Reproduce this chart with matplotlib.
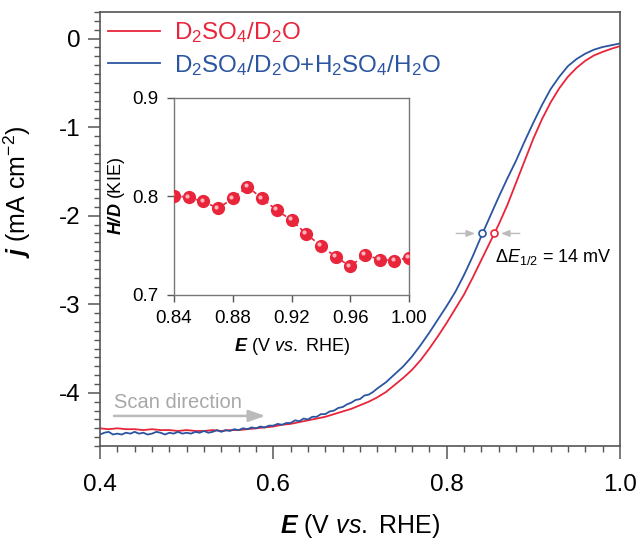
import numpy as np
import matplotlib
matplotlib.use('Agg')
import matplotlib.pyplot as plt
from matplotlib.ticker import MultipleLocator
from matplotlib.transforms import offset_copy

plt.rcParams['font.family'] = ['Liberation Sans', 'DejaVu Sans']
plt.rcParams['mathtext.fontset'] = 'custom'
plt.rcParams['mathtext.rm'] = 'Liberation Sans'
plt.rcParams['mathtext.it'] = 'Liberation Sans:italic'
plt.rcParams['mathtext.bf'] = 'Liberation Sans:bold'
plt.rcParams['mathtext.bfit'] = 'Liberation Sans:italic:bold'

RED = '#e8253a'
BLUE = '#2b55a1'
AXC = '#555555'

# LSV curve, D2SO4/D2O
e_red = [0.40, 0.41, 0.42, 0.43, 0.44, 0.45, 0.46, 0.47, 0.48, 0.49, 0.50,
         0.51, 0.52, 0.53, 0.54, 0.55, 0.56, 0.57, 0.58, 0.59, 0.60, 0.61,
         0.62, 0.63, 0.64, 0.65, 0.66, 0.67, 0.68, 0.69, 0.70, 0.71, 0.72,
         0.73, 0.74, 0.75, 0.76, 0.77, 0.78, 0.79, 0.80, 0.81, 0.82, 0.83,
         0.84, 0.85, 0.86, 0.87, 0.88, 0.89, 0.90, 0.91, 0.92, 0.93, 0.94,
         0.95, 0.96, 0.97, 0.98, 0.99, 1.00]
j_red = [-4.40, -4.41, -4.40, -4.41, -4.41, -4.42, -4.41, -4.42, -4.42, -4.43, -4.42,
         -4.43, -4.43, -4.42, -4.43, -4.42, -4.42, -4.41, -4.40, -4.39, -4.38, -4.36,
         -4.35, -4.33, -4.31, -4.29, -4.27, -4.24, -4.21, -4.18, -4.14, -4.10, -4.05,
         -3.99, -3.91, -3.83, -3.74, -3.63, -3.50, -3.36, -3.21, -3.05, -2.89, -2.70,
         -2.50, -2.30, -2.10, -1.88, -1.63, -1.38, -1.13, -0.91, -0.72, -0.56, -0.43,
         -0.33, -0.25, -0.19, -0.15, -0.115, -0.085]

# D2SO4/D2O + H2SO4/H2O (noisy at low potential)
e_blue = [0.400, 0.405, 0.410, 0.415, 0.420, 0.425, 0.430, 0.435, 0.440, 0.445,
          0.450, 0.455, 0.460, 0.465, 0.470, 0.475, 0.480, 0.485, 0.490, 0.495,
          0.500, 0.505, 0.510, 0.515, 0.520, 0.525, 0.530, 0.535, 0.540, 0.545,
          0.550, 0.555, 0.560, 0.565, 0.570, 0.575, 0.580, 0.585, 0.590, 0.595,
          0.600, 0.605, 0.610, 0.615, 0.620, 0.625, 0.630, 0.635, 0.640, 0.645,
          0.650, 0.655, 0.660, 0.665, 0.670, 0.675, 0.680, 0.685, 0.690, 0.695,
          0.700, 0.705, 0.710, 0.715, 0.720, 0.73, 0.74, 0.75, 0.76, 0.77,
          0.78, 0.79, 0.80, 0.81, 0.82, 0.83, 0.84, 0.85, 0.86, 0.87,
          0.88, 0.89, 0.90, 0.91, 0.92, 0.93, 0.94, 0.95, 0.96, 0.97,
          0.98, 0.99, 1.00]
j_blue = [-4.47, -4.45, -4.44, -4.47, -4.46, -4.47, -4.45, -4.46, -4.44, -4.46,
          -4.45, -4.47, -4.46, -4.44, -4.45, -4.47, -4.45, -4.46, -4.44, -4.46,
          -4.45, -4.46, -4.44, -4.45, -4.43, -4.45, -4.44, -4.42, -4.44, -4.42,
          -4.43, -4.41, -4.42, -4.40, -4.41, -4.39, -4.40, -4.38, -4.39, -4.37,
          -4.37, -4.35, -4.36, -4.34, -4.34, -4.31, -4.32, -4.29, -4.30, -4.27,
          -4.27, -4.24, -4.24, -4.21, -4.20, -4.17, -4.16, -4.13, -4.11, -4.08,
          -4.07, -4.03, -4.02, -3.99, -3.95, -3.88, -3.79, -3.70, -3.59, -3.46,
          -3.32, -3.17, -3.02, -2.86, -2.67, -2.46, -2.23, -2.01, -1.79, -1.58,
          -1.38, -1.16, -0.95, -0.75, -0.57, -0.43, -0.31, -0.23, -0.17, -0.125,
          -0.095, -0.075, -0.055]

# half-wave potentials (blue, red)
e_half = [0.8408, 0.8546]
j_half = [-2.2, -2.2]

# inset: KIE vs potential
e_kie = [0.84, 0.85, 0.86, 0.87, 0.88, 0.89, 0.90, 0.91, 0.92,
         0.93, 0.94, 0.95, 0.96, 0.97, 0.98, 0.99, 1.00]
kie = [0.801, 0.799, 0.795, 0.788, 0.798, 0.810, 0.798, 0.786, 0.776,
       0.762, 0.750, 0.739, 0.729, 0.741, 0.736, 0.735, 0.738]

fig = plt.figure(figsize=(6.43, 5.39), dpi=100)
ax = fig.add_axes([0.1555, 0.1725, 0.8087, 0.8052])

ax.plot(e_red, j_red, color=RED, lw=1.3, label=r'D$_2$SO$_4$/D$_2$O')
ax.plot(e_blue, j_blue, color=BLUE, lw=1.3, label=r'D$_2$SO$_4$/D$_2$O+H$_2$SO$_4$/H$_2$O')
ax.plot(e_half[0], j_half[0], 'o', ms=5, mfc='white', mec=BLUE, mew=1.2, zorder=5)
ax.plot(e_half[1], j_half[1], 'o', ms=5, mfc='white', mec=RED, mew=1.2, zorder=5)

arrow_kw = dict(arrowstyle='-|>,head_length=0.5,head_width=0.2', color='#bbbbbb', lw=1.0)
ax.annotate('', xy=(e_half[0] - 0.005, j_half[0]), xytext=(e_half[0] - 0.033, j_half[0]),
            arrowprops=arrow_kw)
ax.annotate('', xy=(e_half[1] + 0.005, j_half[1]), xytext=(e_half[1] + 0.033, j_half[1]),
            arrowprops=arrow_kw)
ax.text(0.856, -2.47, r'$\Delta\mathit{E}_{1/2}$ = 14 mV', fontsize=13, va='center', ha='left')

ax.annotate('', xy=(0.594, -4.26), xytext=(0.413, -4.26),
            arrowprops=dict(arrowstyle='-|>,head_length=1.0,head_width=0.35',
                            color='#bbbbbb', lw=1.8))
ax.text(0.416, -4.11, 'Scan direction', fontsize=14.5, color='#a8a8a8', va='center', ha='left')

ax.set_xlim(0.4, 1.0)
ax.set_ylim(-4.6, 0.3)
ax.xaxis.set_major_locator(MultipleLocator(0.2))
ax.xaxis.set_minor_locator(MultipleLocator(0.02))
ax.yaxis.set_major_locator(MultipleLocator(1))
ax.yaxis.set_minor_locator(MultipleLocator(0.1))
ax.xaxis.set_major_formatter(plt.FuncFormatter(lambda v, p: f'{v:.1f}'))
ax.yaxis.set_major_formatter(plt.FuncFormatter(lambda v, p: f'{v:.0f}'))
ax.tick_params(which='major', direction='out', length=9, width=1.1, color=AXC,
               labelsize=17.5, pad=5)
ax.tick_params(axis='x', which='major', pad=11)
ax.tick_params(which='minor', direction='out', length=4.5, width=1.0, color=AXC)
for s in ax.spines.values():
    s.set_color(AXC)
    s.set_linewidth(1.2)

ax.set_xlabel(r'$\mathbfit{E}$ (V $\mathit{vs.}$ RHE)', fontsize=18, labelpad=11.5)
ax.set_ylabel(r'$\mathbfit{j}$ (mA cm$^{-2}$)', fontsize=18)
ax.yaxis.set_label_coords(-0.128, 0.585)

leg = ax.legend(loc='upper left', bbox_to_anchor=(0.0, 1.0), frameon=False, fontsize=17.4,
                handlelength=2.15, handletextpad=0.55, labelspacing=0.3,
                borderaxespad=0.05, borderpad=0.3, labelcolor='linecolor')

# inset
ins = fig.add_axes([0.2706, 0.4527, 0.3655, 0.3655])
ins.plot(e_kie, kie, ls=(0, (2.5, 2)), color=RED, lw=1.2, zorder=2)
ins.plot(e_kie, kie, 'o', ms=8.5, color=RED, mec=RED, zorder=3)
hl = offset_copy(ins.transData, fig=fig, x=-1.3, y=1.3, units='points')
ins.plot(e_kie, kie, 'o', ms=3, color='#ffb3bb', mec='none', transform=hl, zorder=4)
ins.set_xlim(0.84, 1.0)
ins.set_ylim(0.7, 0.9)
ins.xaxis.set_major_locator(MultipleLocator(0.04))
ins.yaxis.set_major_locator(MultipleLocator(0.1))
ins.xaxis.set_major_formatter(plt.FuncFormatter(lambda v, p: f'{v:.2f}'))
ins.yaxis.set_major_formatter(plt.FuncFormatter(lambda v, p: f'{v:.1f}'))
ins.tick_params(direction='out', length=5, width=1.0, color=AXC, labelsize=13.5, pad=6)
for s in ins.spines.values():
    s.set_color('#777777')
    s.set_linewidth(1.0)
ins.set_xlabel(r'$\mathbfit{E}$ (V $\mathit{vs.}$ RHE)', fontsize=13, labelpad=6)
ins.set_ylabel(r'$\mathbfit{H/D}$ (KIE)', fontsize=13, labelpad=4)

fig.savefig('out.png', dpi=100)
